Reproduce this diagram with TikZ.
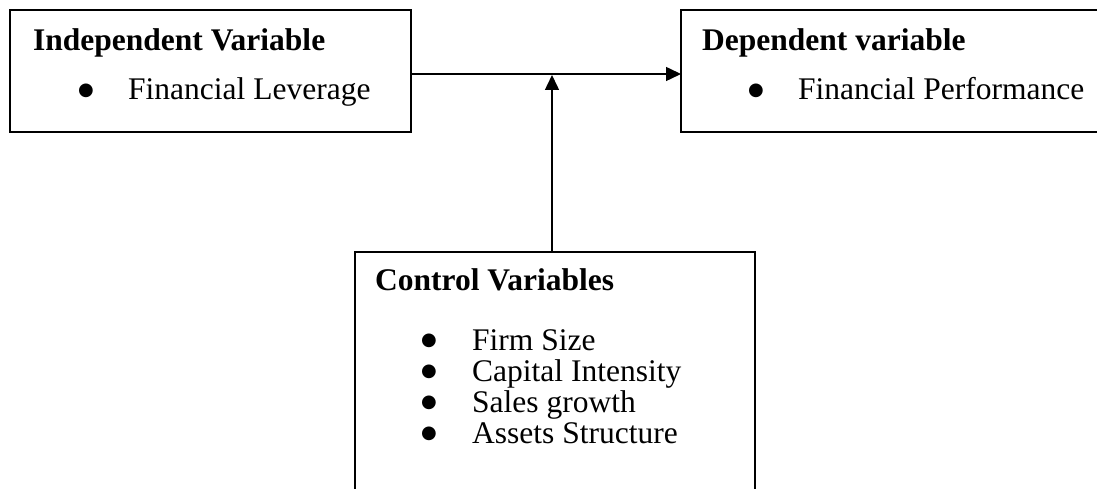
\documentclass[tikz,border=0pt]{standalone}
\usepackage{fontspec}
\setmainfont{Liberation Serif}
\newfontfamily\dejavu{DejaVu Sans}
\usetikzlibrary{arrows.meta}

\begin{document}
\begin{tikzpicture}[x=1pt,y=-1pt,>={Triangle[length=15pt,width=14pt]},
  box/.style={draw,line width=2pt,inner sep=0pt,outer sep=0pt,anchor=north west},
  head/.style={anchor=base west,inner sep=0pt,font=\fontsize{31.5}{36}\selectfont\bfseries},
  item/.style={anchor=base west,inner sep=0pt,font=\fontsize{31.5}{36}\selectfont},
  bullet/.style={inner sep=0pt,font=\dejavu\fontsize{18}{20}\selectfont}]
\useasboundingbox (0,0) rectangle (1097,489);
\node[box,minimum width=401pt,minimum height=122pt] (indep) at (10,10) {};
\node[box,minimum width=440pt,minimum height=122pt] (dep) at (681,10) {};
\node[box,minimum width=400pt,minimum height=280pt] (ctrl) at (355,252) {};
\node[head] (indeph) at (33,51) {Independent Variable};
\node[bullet] (indepb) at (86,91) {●};
\node[item] (indepi) at (128,100) {Financial Leverage};
\node[head] (deph) at (702,51) {Dependent variable};
\node[bullet] (depb) at (756,91) {●};
\node[item] (depi) at (798,100) {Financial Performance};
\node[head] (ctrlh) at (375,290) {Control Variables};
\foreach \t [count=\i] in {Firm Size,Capital Intensity,Sales growth,Assets Structure} {
\node[bullet] (ctrlb\i) at (429,{310+31*\i}) {●};
\node[item] (ctrl\i) at (472,{319+31*\i}) {\t};
}
\coordinate (meet) at (552,75);
\draw[->,line width=1.5pt] ([yshift=-3pt]indep.east) -- ([yshift=-3pt]dep.west);
\draw[->,line width=1.5pt] (ctrl.north -| meet) -- (meet);
\end{tikzpicture}
\end{document}
